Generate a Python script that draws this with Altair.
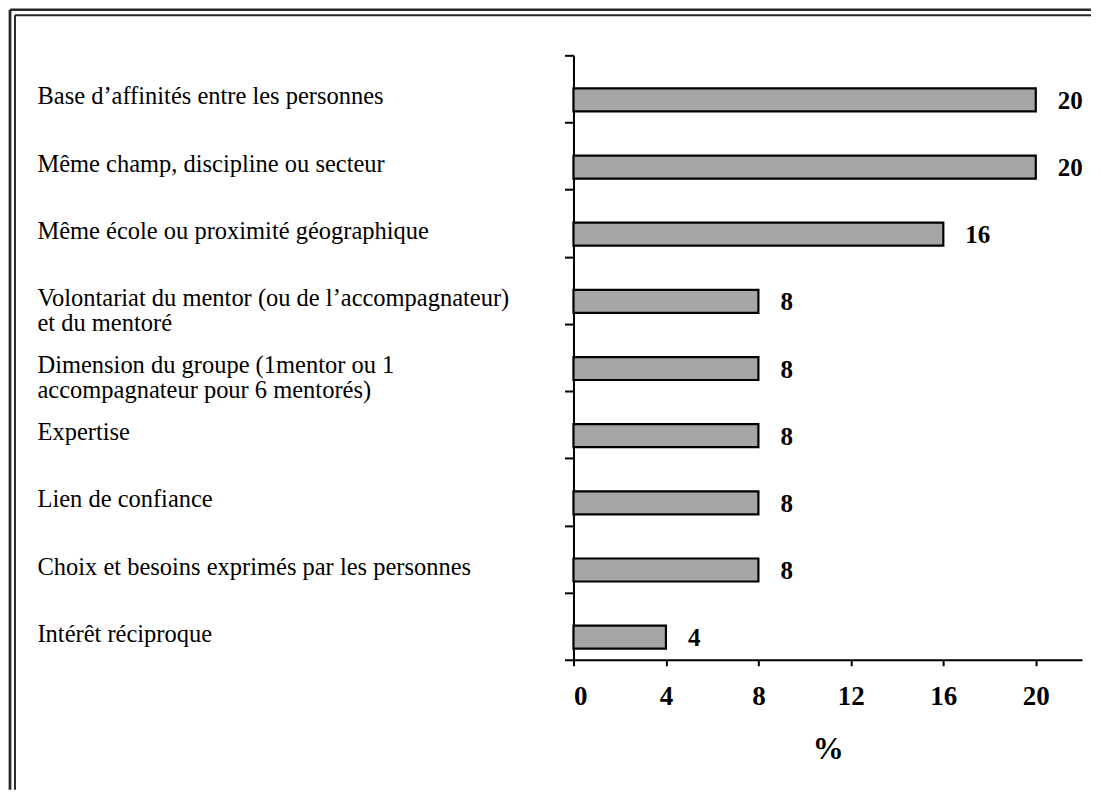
import altair as alt
import pandas as pd

categories = [
    "Base d’affinités entre les personnes",
    "Même champ, discipline ou secteur",
    "Même école ou proximité géographique",
    "Volontariat du mentor (ou de l’accompagnateur)\net du mentoré",
    "Dimension du groupe (1mentor ou 1\naccompagnateur pour 6 mentorés)",
    "Expertise",
    "Lien de confiance",
    "Choix et besoins exprimés par les personnes",
    "Intérêt réciproque",
]
values = [20, 20, 16, 8, 8, 8, 8, 8, 4]
x_ticks = [0, 4, 8, 12, 16, 20]

df = pd.DataFrame({"label": categories, "value": values})

SERIF = "Liberation Serif"

y_enc = alt.Y(
    "label:N",
    sort=categories,
    scale=alt.Scale(paddingInner=0, paddingOuter=0),
    axis=alt.Axis(
        title=None,
        domain=True, domainColor="black", domainWidth=2,
        ticks=True, tickBand="extent", tickSize=9, tickColor="black", tickWidth=2,
        labelAlign="left", labelBaseline="top", labelPadding=528, labelLimit=560,
        labelFont=SERIF, labelFontSize=24.5, labelLineHeight=25, labelColor="black",
        labelOffset=-4,
        labelExpr="datum.value ? split(datum.value, '\\n') : ''",
    ),
)
x_enc = alt.X(
    "value:Q",
    scale=alt.Scale(domain=[0, 22], nice=False),
    axis=alt.Axis(
        values=x_ticks, grid=False,
        domain=True, domainColor="black", domainWidth=2,
        ticks=True, tickSize=6, tickColor="black", tickWidth=2,
        labelFont=SERIF, labelFontSize=27, labelFontWeight="bold", labelColor="black",
        labelPadding=18,
        title="%", titleFont=SERIF, titleFontSize=31, titleFontWeight="bold",
        titleColor="black", titlePadding=25,
    ),
)

bars = alt.Chart(df).mark_bar(
    size=23, yOffset=11, fill="#a6a6a6", stroke="black", strokeWidth=2.2
).encode(x=x_enc, y=y_enc)

texts = alt.Chart(df).mark_text(
    align="left", baseline="middle", dx=22, dy=12,
    font=SERIF, fontSize=25, fontWeight="bold", color="black",
).encode(x=x_enc, y=y_enc, text="value:Q")

one = alt.Data(values=[{"k": 1}])
FRAME = "#2a2a2a"
frame = [
    alt.Chart(one).mark_rule(color=FRAME, strokeWidth=2.8).encode(
        x=alt.value(-564), y=alt.value(-45.5), y2=alt.value(735)),
    alt.Chart(one).mark_rule(color=FRAME, strokeWidth=2).encode(
        x=alt.value(-559), y=alt.value(-40), y2=alt.value(735)),
    alt.Chart(one).mark_rule(color=FRAME, strokeWidth=2.5).encode(
        y=alt.value(-45.5), x=alt.value(-564), x2=alt.value(518)),
    alt.Chart(one).mark_rule(color=FRAME, strokeWidth=2).encode(
        y=alt.value(-40), x=alt.value(-559), x2=alt.value(518)),
]

chart = alt.layer(bars, texts, *frame).properties(
    width=509, height=605, padding=0, background="white"
).configure_view(stroke=None)

chart.save("out.html", embed_options={"renderer": "svg", "actions": False})
